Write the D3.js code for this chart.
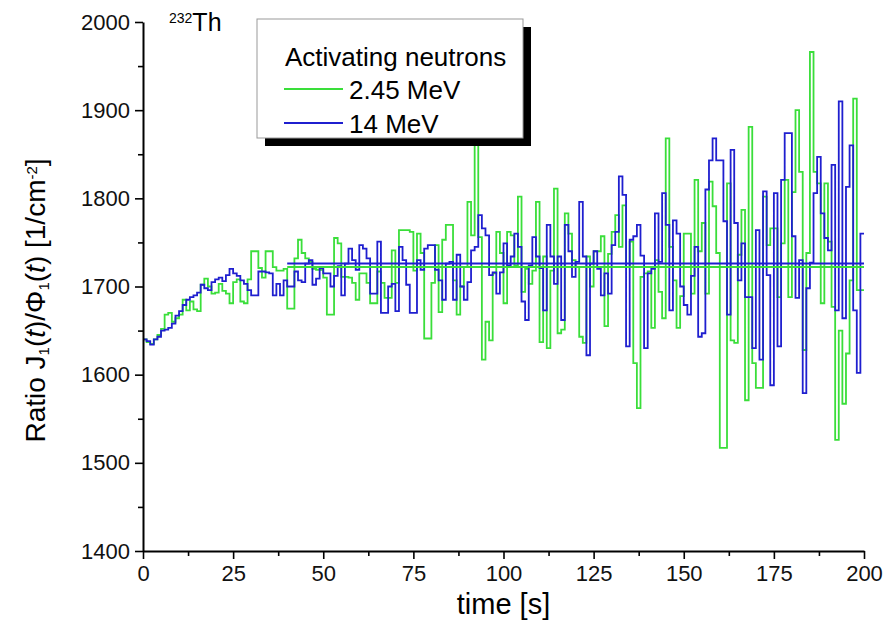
<!DOCTYPE html>
<html>
<head>
<meta charset="utf-8">
<script src="https://cdn.jsdelivr.net/npm/d3@7"></script>
<style>
  body { margin: 0; background: #fff; }
  svg { display: block; font-family: "Liberation Sans", Arial, sans-serif; }
</style>
</head>
<body>
<script>
// --- Data (1 s bins) ---
const times = d3.range(0, 200);

const green245 = [
  1640, 1637, 1635, 1640, 1645, 1652, 1668, 1670, 1660, 1664,
  1668, 1685, 1673, 1683, 1674, 1672, 1702, 1709, 1700, 1692,
  1693, 1703, 1695, 1692, 1681, 1705, 1708, 1683, 1681, 1708,
  1740, 1740, 1721, 1710, 1740, 1740, 1722, 1718, 1718, 1720,
  1675, 1675, 1732, 1753, 1738, 1732, 1728, 1720, 1719, 1719,
  1710, 1668, 1668, 1755, 1749, 1711, 1711, 1710, 1704, 1685,
  1715, 1715, 1704, 1681, 1681, 1717, 1704, 1687, 1687, 1741,
  1704, 1764, 1764, 1764, 1762, 1718, 1760, 1738, 1641, 1641,
  1704, 1747, 1671, 1753, 1770, 1770, 1707, 1668, 1700, 1722,
  1796, 1758, 1865, 1756, 1617, 1660, 1639, 1715, 1762, 1738,
  1681, 1762, 1758, 1724, 1802, 1694, 1720, 1703, 1718, 1796,
  1637, 1734, 1630, 1718, 1811, 1647, 1651, 1783, 1760, 1730,
  1722, 1643, 1636, 1734, 1700, 1740, 1740, 1757, 1655, 1737,
  1762, 1781, 1745, 1792, 1722, 1751, 1613, 1562, 1711, 1715,
  1717, 1653, 1730, 1694, 1664, 1868, 1745, 1707, 1653, 1689,
  1760, 1760, 1692, 1821, 1740, 1772, 1692, 1819, 1791, 1738,
  1517, 1517, 1817, 1639, 1636, 1736, 1787, 1571, 1881, 1613,
  1585, 1585, 1802, 1747, 1766, 1766, 1688, 1749, 1821, 1688,
  1807, 1900, 1830, 1628, 1738, 1966, 1830, 1817, 1681, 1817,
  1751, 1677, 1526, 1650, 1567, 1624, 1707, 1913, 1696, 1696
];

const blue14 = [
  1640, 1638, 1634, 1640, 1643, 1650, 1651, 1653, 1658, 1667,
  1672, 1679, 1685, 1688, 1690, 1693, 1702, 1698, 1696, 1705,
  1708, 1710, 1706, 1713, 1720, 1715, 1712, 1707, 1703, 1696,
  1690, 1690, 1717, 1717, 1716, 1715, 1690, 1703, 1690, 1707,
  1700, 1700, 1717, 1707, 1705, 1726, 1730, 1702, 1709, 1721,
  1715, 1715, 1700, 1712, 1723, 1690, 1726, 1743, 1730, 1719,
  1747, 1743, 1732, 1692, 1692, 1751, 1670, 1670, 1700, 1703,
  1672, 1745, 1730, 1702, 1670, 1670, 1730, 1719, 1743, 1747,
  1747, 1719, 1707, 1685, 1726, 1728, 1685, 1736, 1700, 1685,
  1705, 1741, 1745, 1781, 1766, 1758, 1713, 1716, 1692, 1716,
  1749, 1724, 1734, 1760, 1745, 1683, 1662, 1724, 1756, 1734,
  1721, 1673, 1770, 1734, 1703, 1734, 1662, 1770, 1740, 1711,
  1728, 1796, 1734, 1622, 1726, 1740, 1720, 1690, 1715, 1692,
  1747, 1762, 1825, 1804, 1632, 1753, 1757, 1770, 1735, 1630,
  1715, 1720, 1783, 1728, 1806, 1770, 1673, 1775, 1760, 1700,
  1679, 1668, 1712, 1745, 1643, 1647, 1810, 1843, 1868, 1843,
  1843, 1774, 1668, 1855, 1772, 1707, 1749, 1688, 1688, 1630,
  1764, 1617, 1808, 1713, 1588, 1806, 1632, 1821, 1874, 1874,
  1757, 1687, 1730, 1579, 1698, 1727, 1806, 1847, 1783, 1755,
  1741, 1838, 1673, 1910, 1664, 1813, 1860, 1673, 1602, 1760
];

// average levels drawn from t = 40 s onwards
const meanRange = [40, 200];
const greenMean = 1722;
const blueMean = 1726;

const xTicks = [0, 25, 50, 75, 100, 125, 150, 175, 200];
const yTicks = [1400, 1500, 1600, 1700, 1800, 1900, 2000];
const seriesNames = ["2.45 MeV", "14 MeV"];

// --- SVG Setup ---
const W = 883, H = 635;
const margin = { top: 22, right: 19, bottom: 84, left: 143 };

const svg = d3.select("body").append("svg")
  .attr("width", W)
  .attr("height", H);

const x = d3.scaleLinear().domain([0, 200]).range([margin.left, W - margin.right]);
const y = d3.scaleLinear().domain([1400, 2000]).range([H - margin.bottom, margin.top]);

const green = "#3ade3a";
const blue = "#1f1fcf";

// Series as step lines
const line = d3.line()
  .x(d => x(d[0]))
  .y(d => y(d[1]))
  .curve(d3.curveStepAfter);

function steps(values) {
  const pts = times.map((t, i) => [t, values[i]]);
  pts.push([times[times.length - 1] + 1, values[values.length - 1]]);
  return pts;
}

svg.append("path")
  .attr("d", line(steps(green245)))
  .attr("fill", "none")
  .attr("stroke", green)
  .attr("stroke-width", 1.8);

svg.append("path")
  .attr("d", line(steps(blue14)))
  .attr("fill", "none")
  .attr("stroke", blue)
  .attr("stroke-width", 1.8);

// mean levels
svg.append("line")
  .attr("x1", x(meanRange[0])).attr("x2", x(meanRange[1]))
  .attr("y1", y(greenMean)).attr("y2", y(greenMean))
  .attr("stroke", green).attr("stroke-width", 2);

svg.append("line")
  .attr("x1", x(meanRange[0])).attr("x2", x(meanRange[1]))
  .attr("y1", y(blueMean)).attr("y2", y(blueMean))
  .attr("stroke", blue).attr("stroke-width", 2);

// Axes
svg.append("g")
  .attr("transform", `translate(0, ${y(1400)})`)
  .call(d3.axisBottom(x).tickValues(xTicks).tickSize(8).tickSizeOuter(0).tickPadding(6).tickFormat(d3.format("d")));

svg.append("g")
  .attr("transform", `translate(0, ${y(1400)})`)
  .call(d3.axisBottom(x).tickValues(xTicks.slice(1).map(v => v - 12.5)).tickSize(5).tickFormat(""))
  .select(".domain").remove();

svg.append("g")
  .attr("transform", `translate(${x(0)}, 0)`)
  .call(d3.axisLeft(y).tickValues(yTicks).tickSize(8).tickSizeOuter(0).tickPadding(5).tickFormat(d3.format("d")));

svg.append("g")
  .attr("transform", `translate(${x(0)}, 0)`)
  .call(d3.axisLeft(y).tickValues(yTicks.slice(1).map(v => v - 50)).tickSize(5).tickFormat(""))
  .select(".domain").remove();

svg.selectAll(".domain").attr("stroke", "#000").attr("stroke-width", 2);
svg.selectAll(".tick line").attr("stroke", "#000").attr("stroke-width", 1.6);
svg.selectAll(".tick text")
  .attr("fill", "#111")
  .style("font-size", "22px")
  .style("font-family", "'Liberation Sans', Arial, sans-serif");

// Axis Labels
svg.append("text")
  .attr("x", x(100))
  .attr("y", 614)
  .attr("text-anchor", "middle")
  .style("font-size", "29px")
  .text("time [s]");

const yl = svg.append("text")
  .attr("transform", `translate(45, ${y(1700) + 14}) rotate(-90)`)
  .attr("text-anchor", "middle")
  .style("font-size", "28px");
yl.append("tspan").text("Ratio J");
yl.append("tspan").attr("baseline-shift", "-25%").style("font-size", "15px").text("1");
yl.append("tspan").text("(");
yl.append("tspan").style("font-style", "italic").text("t");
yl.append("tspan").text(")/Φ");
yl.append("tspan").attr("baseline-shift", "-25%").style("font-size", "15px").text("1");
yl.append("tspan").text("(");
yl.append("tspan").style("font-style", "italic").text("t");
yl.append("tspan").text(") [1/cm");
yl.append("tspan").attr("baseline-shift", "super").style("font-size", "15px").text("-2");
yl.append("tspan").text("]");

// Isotope label
const iso = svg.append("text")
  .attr("x", 169)
  .attr("y", 31);
iso.append("tspan").attr("baseline-shift", "super").style("font-size", "14px").text("232");
iso.append("tspan").style("font-size", "25px").text("Th");

// Legend
const legend = svg.append("g").attr("transform", "translate(257, 19)");
legend.append("rect")
  .attr("x", 8).attr("y", 8)
  .attr("width", 266).attr("height", 119)
  .attr("fill", "#000");
legend.append("rect")
  .attr("width", 266).attr("height", 119)
  .attr("fill", "#fff")
  .attr("stroke", "#999")
  .attr("stroke-width", 1);
legend.append("text")
  .attr("x", 28).attr("y", 47)
  .style("font-size", "26px")
  .text("Activating neutrons");

const entries = legend.selectAll(".legend-entry")
  .data(seriesNames)
  .enter().append("g")
  .attr("class", "legend-entry")
  .attr("transform", (d, i) => `translate(0, ${70 + i * 34})`);

entries.append("line")
  .attr("x1", 27).attr("x2", 86)
  .attr("stroke", (d, i) => i === 0 ? green : blue)
  .attr("stroke-width", 2);

entries.append("text")
  .attr("x", 92).attr("y", 10)
  .style("font-size", "26px")
  .text(d => d);
</script>
</body>
</html>
